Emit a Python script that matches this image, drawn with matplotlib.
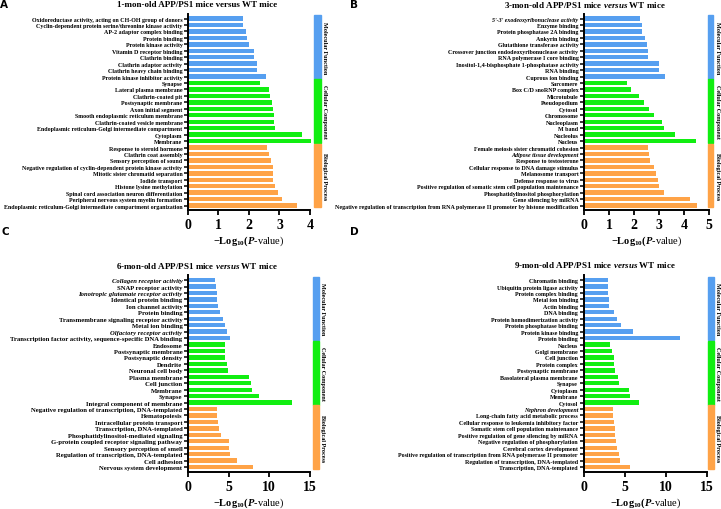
import matplotlib.pyplot as plt
import matplotlib.transforms as mtransforms
from matplotlib.patches import Rectangle

plt.rcParams['font.family'] = 'Liberation Serif'
plt.rcParams['font.weight'] = 'bold'
plt.rcParams['mathtext.fontset'] = 'custom'
plt.rcParams['mathtext.rm'] = 'Liberation Serif:bold'
plt.rcParams['mathtext.it'] = 'Liberation Serif:italic:bold'
plt.rcParams['mathtext.bf'] = 'Liberation Serif:bold'

groups = ['Molecular Function', 'Cellular Component', 'Biological Process']
group_colors = ['#569ff0', '#11ee11', '#ffa347']

# 1-month-old, top to bottom
terms_1m = [
    'Oxidoreductase activity, acting on CH-OH group of donors',
    'Cyclin-dependent protein serine/threonine kinase activity',
    'AP-2 adaptor complex binding',
    'Protein binding',
    'Protein kinase activity',
    'Vitamin D receptor binding',
    'Clathrin binding',
    'Clathrin adaptor activity',
    'Clathrin heavy chain binding',
    'Protein kinase inhibitor activity',
    'Synapse',
    'Lateral plasma membrane',
    'Clathrin-coated pit',
    'Postsynaptic membrane',
    'Axon initial segment',
    'Smooth endoplasmic reticulum membrane',
    'Clathrin-coated vesicle membrane',
    'Endoplasmic reticulum-Golgi intermediate compartment',
    'Cytoplasm',
    'Membrane',
    'Response to steroid hormone',
    'Clathrin coat assembly',
    'Sensory perception of sound',
    'Negative regulation of cyclin-dependent protein kinase activity',
    'Mitotic sister chromatid separation',
    'Iodide transport',
    'Histone lysine methylation',
    'Spinal cord association neuron differentiation',
    'Peripheral nervous system myelin formation',
    'Endoplasmic reticulum-Golgi intermediate compartment organization',
]
vals_1m = [1.81, 1.81, 1.89, 1.95, 2.01, 2.16, 2.16, 2.27, 2.27, 2.55,
           2.35, 2.66, 2.69, 2.77, 2.78, 2.82, 2.82, 2.87, 3.75, 4.05,
           2.60, 2.66, 2.72, 2.79, 2.79, 2.79, 2.86, 2.94, 3.09, 3.58]

# 3-month-old
terms_3m = [
    "5'-3' exodeoxyribonuclease activity",
    'Enzyme binding',
    'Protein phosphatase 2A binding',
    'Ankyrin binding',
    'Glutathione transferase activity',
    'Crossover junction endodeoxyribonuclease activity',
    'RNA polymerase I core binding',
    'Inositol-1,4-bisphosphate 1-phosphatase activity',
    'RNA binding',
    'Cuprous ion binding',
    'Sarcomere',
    'Box C/D snoRNP complex',
    'Microtubule',
    'Pseudopodium',
    'Cytosol',
    'Chromosome',
    'Nucleoplasm',
    'M band',
    'Nucleolus',
    'Nucleus',
    'Female meiosis sister chromatid cohesion',
    'Adipose tissue development',
    'Response to testosterone',
    'Cellular response to DNA damage stimulus',
    'Melanosome transport',
    'Defense response to virus',
    'Positive regulation of somatic stem cell population maintenance',
    'Phosphatidylinositol phosphorylation',
    'Gene silencing by miRNA',
    'Negative regulation of transcription from RNA polymerase II promoter by histone modification',
]
vals_3m = [2.25, 2.33, 2.33, 2.42, 2.53, 2.54, 2.54, 3.01, 3.01, 3.25,
           1.71, 1.86, 2.18, 2.38, 2.61, 2.81, 3.13, 3.21, 3.65, 4.48,
           2.54, 2.59, 2.65, 2.78, 2.89, 2.97, 3.01, 3.21, 4.22, 4.52]

# 6-month-old
terms_6m = [
    'Collagen receptor activity',
    'SNAP receptor activity',
    'Ionotropic glutamate receptor activity',
    'Identical protein binding',
    'Ion channel activity',
    'Protein binding',
    'Transmembrane signaling receptor activity',
    'Metal ion binding',
    'Olfactory receptor activity',
    'Transcription factor activity, sequence-specific DNA binding',
    'Endosome',
    'Postsynaptic membrane',
    'Postsynaptic density',
    'Dendrite',
    'Neuronal cell body',
    'Plasma membrane',
    'Cell junction',
    'Membrane',
    'Synapse',
    'Integral component of membrane',
    'Negative regulation of transcription, DNA-templated',
    'Hematopoiesis',
    'Intracellular protein transport',
    'Transcription, DNA-templated',
    'Phosphatidylinositol-mediated signaling',
    'G-protein coupled receptor signaling pathway',
    'Sensory perception of smell',
    'Regulation of transcription, DNA-templated',
    'Cell adhesion',
    'Nervous system development',
]
vals_6m = [3.29, 3.49, 3.58, 3.58, 3.70, 3.99, 4.36, 4.60, 4.81, 5.14,
           4.52, 4.56, 4.60, 4.85, 4.93, 7.56, 7.73, 7.89, 8.71, 12.82,
           3.53, 3.58, 3.70, 3.78, 4.07, 5.06, 5.10, 5.22, 6.00, 8.01]

# 9-month-old
terms_9m = [
    'Chromatin binding',
    'Ubiquitin protein ligase activity',
    'Protein complex binding',
    'Metal ion binding',
    'Actin binding',
    'DNA binding',
    'Protein homodimerization activity',
    'Protein phosphatase binding',
    'Protein kinase binding',
    'Protein binding',
    'Nucleus',
    'Golgi membrane',
    'Cell junction',
    'Protein complex',
    'Postsynaptic membrane',
    'Basolateral plasma membrane',
    'Synapse',
    'Cytoplasm',
    'Membrane',
    'Cytosol',
    'Nephron development',
    'Long-chain fatty acid metabolic process',
    'Cellular response to leukemia inhibitory factor',
    'Somatic stem cell population maintenance',
    'Positive regulation of gene silencing by miRNA',
    'Negative regulation of phosphorylation',
    'Cerebral cortex development',
    'Positive regulation of transcription from RNA polymerase II promoter',
    'Regulation of transcription, DNA-templated',
    'Transcription, DNA-templated',
]
vals_9m = [2.92, 2.96, 2.96, 3.04, 3.08, 3.73, 4.09, 4.54, 6.00, 11.76,
           3.24, 3.45, 3.69, 3.73, 3.77, 4.18, 4.26, 5.51, 5.59, 6.77,
           3.53, 3.53, 3.65, 3.77, 3.85, 3.97, 4.01, 4.26, 4.46, 5.59]

italic_terms = ["5'-3' exodeoxyribonuclease activity", 'Adipose tissue development',
                'Nephron development', 'Collagen receptor activity',
                'Ionotropic glutamate receptor activity', 'Olfactory receptor activity']

fig = plt.figure(figsize=(7.21, 5.10), dpi=100)


def draw_panel(rect, terms, vals, xmax, xticks, side_x, side_w, label_fs,
               title, title_xy, letter, letter_xy):
    ax = fig.add_axes(rect)
    n = len(terms)
    colors = [group_colors[i // 10] for i in range(n)]
    ax.barh(range(n), vals, height=0.68, color=colors, clip_on=False)
    ax.set_ylim(n - 0.25, -0.75)
    ax.set_xlim(0, xmax)
    ax.set_xticks(xticks)
    ax.set_yticks(range(n))
    ax.set_yticklabels(terms, fontsize=label_fs)
    for lab in ax.get_yticklabels():
        if lab.get_text() in italic_terms:
            lab.set_style('italic')
    ax.tick_params(axis='y', length=3, width=1.1, pad=1)
    ax.tick_params(axis='x', length=3.5, width=1.3, labelsize=10, pad=2)
    for s in ['top', 'right']:
        ax.spines[s].set_visible(False)
    for s in ['left', 'bottom']:
        ax.spines[s].set_linewidth(1.4)
    ax.set_xlabel(r'$-\mathrm{Log}_{10}(P$-value)', fontsize=7.5, labelpad=2)

    trans = mtransforms.blended_transform_factory(ax.transAxes, ax.transData)
    for g, name in enumerate(groups):
        ax.add_patch(Rectangle((side_x, g * 10 - 0.55), side_w, 9.85, transform=trans,
                               color=group_colors[g], clip_on=False))
        ax.text(side_x + side_w + 0.012, g * 10 + 4.4, name, transform=trans,
                rotation=-90, fontsize=4.4, ha='left', va='center')

    fig.text(title_xy[0] / 721, 1 - title_xy[1] / 510, title, fontsize=6.5,
             ha='center', va='center')
    fig.text(letter_xy[0] / 721, 1 - letter_xy[1] / 510, letter, fontsize=7.5,
             family='DejaVu Sans', weight='bold', ha='center', va='center')


draw_panel([0.2607, 0.5855, 0.1692, 0.3857], terms_1m, vals_1m, 4, [0, 1, 2, 3, 4],
           1.033, 0.055, 4.35,
           '1-mon-old APP/PS1 mice versus WT mice', (197, 5), 'A', (4, 5))
draw_panel([0.8100, 0.5855, 0.1734, 0.3857], terms_3m, vals_3m, 5, [0, 1, 2, 3, 4, 5],
           0.992, 0.04, 4.3,
           r'3-mon-old APP/PS1 mice $\mathit{versus}$ WT mice', (585, 5), 'B', (354, 5))
draw_panel([0.2607, 0.0727, 0.1692, 0.3857], terms_6m, vals_6m, 15, [0, 5, 10, 15],
           1.025, 0.049, 4.75,
           r'6-mon-old APP/PS1 mice $\mathit{versus}$ WT mice', (197, 266), 'C', (5, 232))
draw_panel([0.8093, 0.0727, 0.1713, 0.3857], terms_9m, vals_9m, 15, [0, 5, 10, 15],
           1.0105, 0.046, 4.3,
           r'9-mon-old APP/PS1 mice $\mathit{versus}$ WT mice', (595, 265), 'D', (354, 232))

fig.savefig('out.png', dpi=100)
